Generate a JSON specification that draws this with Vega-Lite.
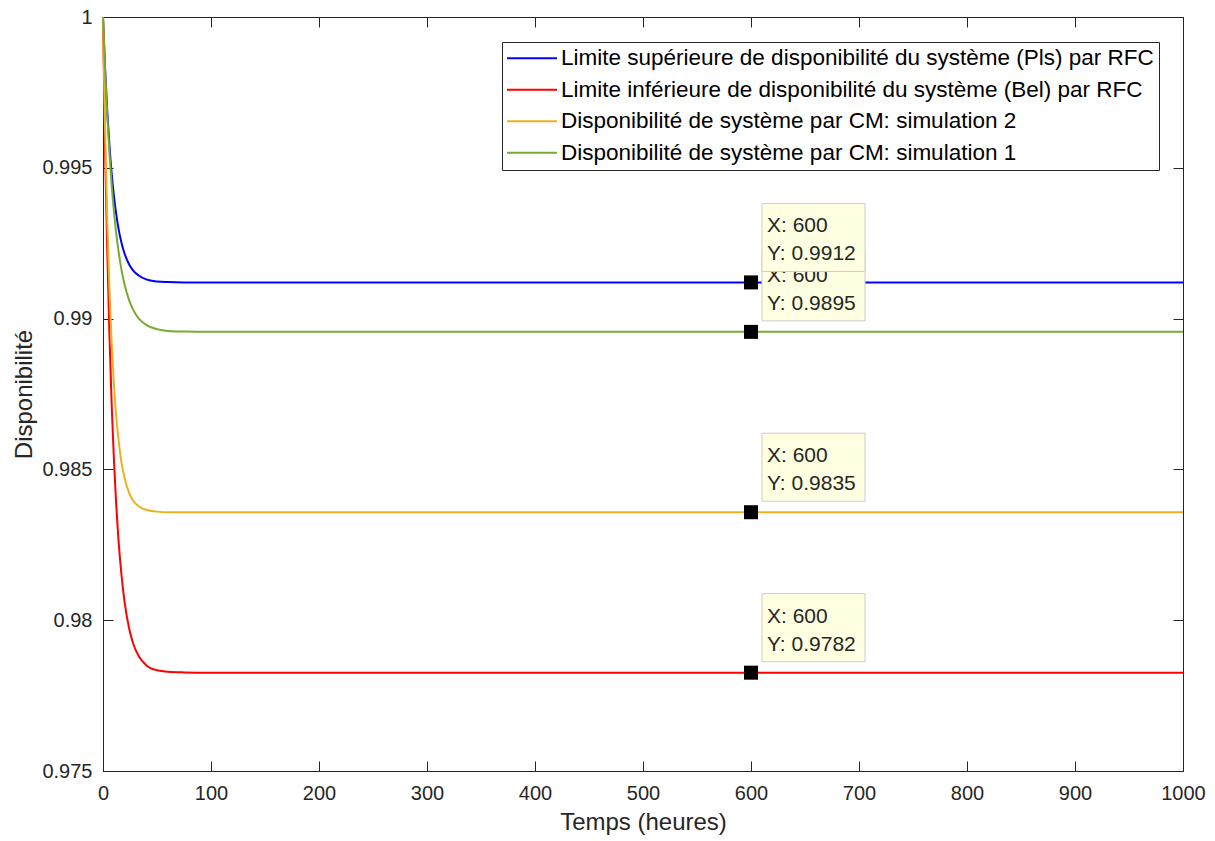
{
  "$schema": "https://vega.github.io/schema/vega-lite/v6.json",
  "width": 1080,
  "height": 754,
  "autosize": "none",
  "padding": {"left": 103, "top": 17, "right": 32, "bottom": 70},
  "background": "white",
  "config": {
    "view": {"stroke": "#262626", "strokeWidth": 1},
    "axis": {
      "domainColor": "#262626", "tickColor": "#262626", "labelColor": "#262626", "titleColor": "#262626",
      "labelFont": "Liberation Sans", "titleFont": "Liberation Sans", "labelFontSize": 20, "titleFontSize": 24,
      "titleFontWeight": "normal", "grid": false, "tickSize": -10, "labelFlush": false, "labelOverlap": false, "labelBound": false
    },
    "legend": {
      "orient": "none", "legendX": 399, "legendY": 25, "padding": 5,
      "strokeColor": "#262626", "fillColor": "white",
      "symbolType": "M-25,0H25", "symbolSize": 4, "symbolStrokeWidth": 2, "symbolOffset": 13.75,
      "labelFont": "Liberation Sans", "labelFontSize": 22.5, "labelColor": "#000000", "labelLimit": 1000,
      "rowPadding": 8.5, "labelOffset": 17.75
    }
  },
  "datasets": {
    "curves": [
      {"s": "Pls", "t": 0, "a": 1.0}, {"s": "Pls", "t": 2, "a": 0.99825}, {"s": "Pls", "t": 4, "a": 0.99684},
      {"s": "Pls", "t": 6, "a": 0.99572}, {"s": "Pls", "t": 8, "a": 0.99482}, {"s": "Pls", "t": 10, "a": 0.99410},
      {"s": "Pls", "t": 12, "a": 0.99352}, {"s": "Pls", "t": 14, "a": 0.99306}, {"s": "Pls", "t": 17, "a": 0.99253},
      {"s": "Pls", "t": 20, "a": 0.99215}, {"s": "Pls", "t": 24, "a": 0.99181}, {"s": "Pls", "t": 28, "a": 0.99159},
      {"s": "Pls", "t": 33, "a": 0.99143}, {"s": "Pls", "t": 40, "a": 0.99130}, {"s": "Pls", "t": 50, "a": 0.99123},
      {"s": "Pls", "t": 60, "a": 0.99121}, {"s": "Pls", "t": 75, "a": 0.9912}, {"s": "Pls", "t": 100, "a": 0.9912},
      {"s": "Pls", "t": 1000, "a": 0.9912},
      {"s": "Bel", "t": 0, "a": 1.0}, {"s": "Bel", "t": 2, "a": 0.99547}, {"s": "Bel", "t": 4, "a": 0.99219},
      {"s": "Bel", "t": 6, "a": 0.98941}, {"s": "Bel", "t": 8, "a": 0.98718}, {"s": "Bel", "t": 10, "a": 0.98541},
      {"s": "Bel", "t": 12, "a": 0.98398}, {"s": "Bel", "t": 14, "a": 0.98283}, {"s": "Bel", "t": 17, "a": 0.98154},
      {"s": "Bel", "t": 20, "a": 0.98060}, {"s": "Bel", "t": 24, "a": 0.97976}, {"s": "Bel", "t": 28, "a": 0.97922},
      {"s": "Bel", "t": 33, "a": 0.97881}, {"s": "Bel", "t": 40, "a": 0.97851}, {"s": "Bel", "t": 50, "a": 0.97834},
      {"s": "Bel", "t": 60, "a": 0.97829}, {"s": "Bel", "t": 75, "a": 0.97827}, {"s": "Bel", "t": 100, "a": 0.97826},
      {"s": "Bel", "t": 1000, "a": 0.97826},
      {"s": "CM2", "t": 0, "a": 1.0}, {"s": "CM2", "t": 2, "a": 0.99615}, {"s": "CM2", "t": 4, "a": 0.99320},
      {"s": "CM2", "t": 6, "a": 0.99093}, {"s": "CM2", "t": 8, "a": 0.98921}, {"s": "CM2", "t": 10, "a": 0.98788},
      {"s": "CM2", "t": 12, "a": 0.98687}, {"s": "CM2", "t": 14, "a": 0.98610}, {"s": "CM2", "t": 17, "a": 0.98526},
      {"s": "CM2", "t": 20, "a": 0.98471}, {"s": "CM2", "t": 24, "a": 0.98424}, {"s": "CM2", "t": 28, "a": 0.98396},
      {"s": "CM2", "t": 33, "a": 0.98378}, {"s": "CM2", "t": 40, "a": 0.98366}, {"s": "CM2", "t": 50, "a": 0.9836},
      {"s": "CM2", "t": 60, "a": 0.98358}, {"s": "CM2", "t": 75, "a": 0.98358}, {"s": "CM2", "t": 100, "a": 0.98358},
      {"s": "CM2", "t": 1000, "a": 0.98358},
      {"s": "CM1", "t": 0, "a": 1.0}, {"s": "CM1", "t": 2, "a": 0.99819}, {"s": "CM1", "t": 4, "a": 0.99670},
      {"s": "CM1", "t": 6, "a": 0.99547}, {"s": "CM1", "t": 8, "a": 0.99444}, {"s": "CM1", "t": 10, "a": 0.99360},
      {"s": "CM1", "t": 12, "a": 0.99290}, {"s": "CM1", "t": 14, "a": 0.99233}, {"s": "CM1", "t": 17, "a": 0.99164},
      {"s": "CM1", "t": 20, "a": 0.99112}, {"s": "CM1", "t": 24, "a": 0.99063}, {"s": "CM1", "t": 28, "a": 0.99029},
      {"s": "CM1", "t": 33, "a": 0.99001}, {"s": "CM1", "t": 40, "a": 0.98979}, {"s": "CM1", "t": 50, "a": 0.98965},
      {"s": "CM1", "t": 60, "a": 0.98959}, {"s": "CM1", "t": 75, "a": 0.98957}, {"s": "CM1", "t": 100, "a": 0.98956},
      {"s": "CM1", "t": 1000, "a": 0.98956}
    ],
    "tips": [
      {"s": "CM1", "x": 600, "y": 0.98956, "tx": "X: 600", "ty": "Y: 0.9895"},
      {"s": "CM2", "x": 600, "y": 0.98358, "tx": "X: 600", "ty": "Y: 0.9835"},
      {"s": "Bel", "x": 600, "y": 0.97826, "tx": "X: 600", "ty": "Y: 0.9782"},
      {"s": "Pls", "x": 600, "y": 0.9912, "tx": "X: 600", "ty": "Y: 0.9912"}
    ]
  },
  "layer": [
    {
      "data": {"name": "curves"},
      "mark": {"type": "line", "strokeWidth": 2, "interpolate": "monotone"},
      "encoding": {
        "x": {"field": "t", "type": "quantitative", "scale": {"domain": [0, 1000], "nice": false, "zero": false},
              "axis": {"orient": "bottom", "title": "Temps (heures)", "format": "d", "values": [0,100,200,300,400,500,600,700,800,900,1000], "labelPadding": 22, "titlePadding": 7}},
        "y": {"field": "a", "type": "quantitative", "scale": {"domain": [0.975, 1], "nice": false, "zero": false},
              "axis": {"orient": "left", "title": "Disponibilité", "values": [0.975,0.98,0.985,0.99,0.995,1], "format": ".3~f", "labelPadding": 21, "titlePadding": 5}},
        "color": {"field": "s", "type": "nominal",
                  "scale": {"domain": ["Pls", "Bel", "CM2", "CM1"], "range": ["#0000FF", "#FF0000", "#EDB120", "#77AC30"]},
                  "legend": {"title": null, "labelExpr": "datum.value == 'Pls' ? 'Limite supérieure de disponibilité du système (Pls) par RFC' : datum.value == 'Bel' ? 'Limite inférieure de disponibilité du système (Bel) par RFC' : datum.value == 'CM2' ? 'Disponibilité de système par CM: simulation 2' : 'Disponibilité de système par CM: simulation 1'"}}
      }
    },
    {
      "data": {"name": "tips"},
      "mark": {"type": "point", "shape": "square", "filled": true, "size": 196, "color": "#000000", "opacity": 1},
      "encoding": {
        "x": {"field": "x", "type": "quantitative", "axis": {"orient": "top", "labels": false, "title": null, "values": [0,100,200,300,400,500,600,700,800,900,1000]}},
        "y": {"field": "y", "type": "quantitative", "axis": {"orient": "right", "labels": false, "title": null, "values": [0.975,0.98,0.985,0.99,0.995,1]}}
      }
    },
    {
      "data": {"name": "tips"},
      "transform": [{"filter": "datum.s != 'Pls'"}],
      "mark": {"type": "rect", "fill": "#FFFFE1", "stroke": "#CCCCCC", "strokeWidth": 1, "xOffset": 11, "x2Offset": 114, "yOffset": -79, "y2Offset": -11},
      "encoding": {
        "x": {"field": "x", "type": "quantitative", "axis": null}, "x2": {"field": "x"},
        "y": {"field": "y", "type": "quantitative", "axis": null}, "y2": {"field": "y"}
      }
    },
    {
      "data": {"name": "tips"},
      "transform": [{"filter": "datum.s != 'Pls'"}],
      "mark": {"type": "text", "align": "left", "baseline": "middle", "dx": 16, "dy": -56, "font": "Liberation Sans", "fontSize": 21, "color": "#262626"},
      "encoding": {"x": {"field": "x", "type": "quantitative", "axis": null}, "y": {"field": "y", "type": "quantitative", "axis": null}, "text": {"field": "tx"}}
    },
    {
      "data": {"name": "tips"},
      "transform": [{"filter": "datum.s != 'Pls'"}],
      "mark": {"type": "text", "align": "left", "baseline": "middle", "dx": 16, "dy": -28, "font": "Liberation Sans", "fontSize": 21, "color": "#262626"},
      "encoding": {"x": {"field": "x", "type": "quantitative", "axis": null}, "y": {"field": "y", "type": "quantitative", "axis": null}, "text": {"field": "ty"}}
    },
    {
      "data": {"name": "tips"},
      "transform": [{"filter": "datum.s == 'Pls'"}],
      "mark": {"type": "rect", "fill": "#FFFFE1", "stroke": "#CCCCCC", "strokeWidth": 1, "xOffset": 11, "x2Offset": 114, "yOffset": -79, "y2Offset": -11},
      "encoding": {
        "x": {"field": "x", "type": "quantitative", "axis": null}, "x2": {"field": "x"},
        "y": {"field": "y", "type": "quantitative", "axis": null}, "y2": {"field": "y"}
      }
    },
    {
      "data": {"name": "tips"},
      "transform": [{"filter": "datum.s == 'Pls'"}],
      "mark": {"type": "text", "align": "left", "baseline": "middle", "dx": 16, "dy": -56, "font": "Liberation Sans", "fontSize": 21, "color": "#262626"},
      "encoding": {"x": {"field": "x", "type": "quantitative", "axis": null}, "y": {"field": "y", "type": "quantitative", "axis": null}, "text": {"field": "tx"}}
    },
    {
      "data": {"name": "tips"},
      "transform": [{"filter": "datum.s == 'Pls'"}],
      "mark": {"type": "text", "align": "left", "baseline": "middle", "dx": 16, "dy": -28, "font": "Liberation Sans", "fontSize": 21, "color": "#262626"},
      "encoding": {"x": {"field": "x", "type": "quantitative", "axis": null}, "y": {"field": "y", "type": "quantitative", "axis": null}, "text": {"field": "ty"}}
    }
  ],
  "resolve": {"axis": {"x": "independent", "y": "independent"}}
}
